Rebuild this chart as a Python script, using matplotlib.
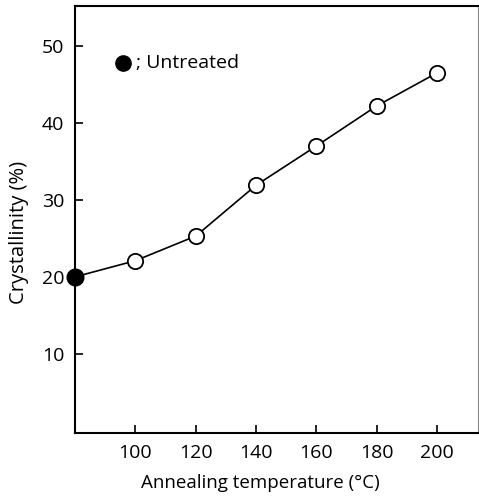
import matplotlib.pyplot as plt

# Annealing data
temps = [80, 100, 120, 140, 160, 180, 200]
cryst = [20.0, 22.1, 25.3, 31.9, 37.0, 42.2, 46.5]
untreated_temp = 80
untreated_cryst = 20.0

xticks = [100, 120, 140, 160, 180, 200]
yticks = [10, 20, 30, 40, 50]

plt.rcParams['font.family'] = ['Open Sans', 'DejaVu Sans']

fig = plt.figure(figsize=(4.79, 5.0), dpi=100)
ax = fig.add_axes([0.157, 0.134, 0.84, 0.854])

# line through all points, open circles for annealed samples
ax.plot(temps, cryst, color='black', lw=1.2, zorder=2)
ax.plot(temps[1:], cryst[1:], 'o', ms=11, mfc='white', mec='black', mew=1.3, zorder=3)
ax.plot([untreated_temp], [untreated_cryst], 'o', ms=12, color='black', zorder=4, clip_on=False)

# legend-like annotation
ax.plot([95.9], [47.8], 'o', ms=11, color='black')
ax.text(100.2, 47.8, '; Untreated', fontsize=14, va='center', ha='left')

ax.set_xlim(80, 213.5)
ax.set_ylim(-0.3, 55.2)
ax.set_xticks(xticks)
ax.set_yticks(yticks)
ax.tick_params(direction='in', length=6, width=1.2, labelsize=14, pad=8)

for s in ['left', 'bottom', 'top']:
    ax.spines[s].set_linewidth(1.5)
ax.spines['right'].set_linewidth(0.8)
ax.spines['right'].set_color('#888888')

ax.set_xlabel('Annealing temperature (°C)', fontsize=13.5, labelpad=8)
ax.xaxis.set_label_coords(0.46, -0.095)
ax.set_ylabel('Crystallinity (%)', fontsize=14.5, labelpad=12)
ax.yaxis.set_label_coords(-0.115, 0.47)

fig.savefig('out.png', dpi=100)
